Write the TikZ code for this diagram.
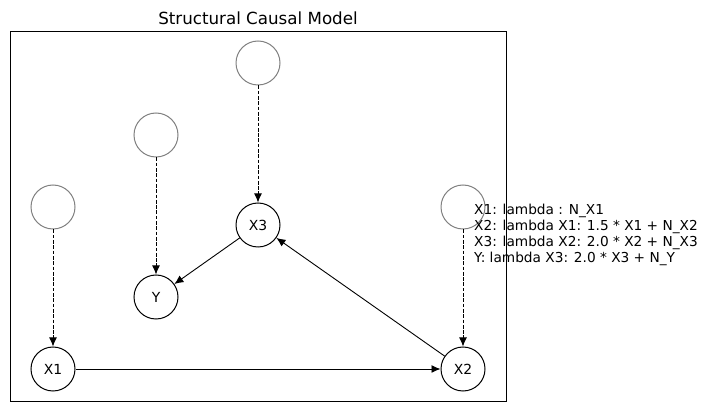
\documentclass[tikz,border=0pt]{standalone}
\usepackage{fontspec}
\setmainfont{DejaVu Sans}
\usetikzlibrary{arrows.meta}
\newcommand{\labelfont}{\fontsize{13.9}{16.2}\selectfont}
\newcommand{\eqfont}{\fontsize{13.7}{16.1}\selectfont}
\newcommand{\titlefont}{\fontsize{16.7}{20}\selectfont}
\tikzset{
  var/.style={circle,draw,line width=1pt,minimum size=44pt,inner sep=0pt,font=\labelfont},
  noise/.style={circle,draw=gray,line width=1pt,minimum size=44pt,inner sep=0pt},
  cause/.style={line width=0.9pt,-{Latex[length=9pt,width=8pt]}},
  noisecause/.style={cause,dash pattern=on 3.7pt off 1.6pt}
}

\begin{document}
\begin{tikzpicture}[x=1pt,y=-1pt]
  \useasboundingbox (0,0) rectangle (707,411);

  % frame and title
  \draw[line width=0.8pt] (10,31) rectangle (506,401);
  \node[font=\titlefont] (title) at (258,18) {Structural Causal Model};

  % variables
  \node[var] (X3) at (258,225) {X3};
  \node[var] (Y)  at (156,297) {Y};
  \node[var] (X1) at (53,369)  {X1};
  \node[var] (X2) at (463,369) {X2};

  % noise terms
  \node[noise] (NX3) at (258,63)  {};
  \node[noise] (NY)  at (156,135) {};
  \node[noise] (NX1) at (53,207)  {};
  \node[noise] (NX2) at (463,207) {};

  \draw[noisecause] (NX3) -- (X3);
  \draw[noisecause] (NY) -- (Y);
  \draw[noisecause] (NX1) -- (X1);
  \draw[noisecause] (NX2) -- (X2);

  \draw[cause] (X1) -- (X2);
  \draw[cause] (X2) -- (X3);
  \draw[cause] (X3) -- (Y);

  % equations
  \node[anchor=west,align=left,inner sep=0pt,font=\eqfont] (eqs) at (474,235)
    {X1: lambda : N\_X1\\
     X2: lambda X1: 1.5 * X1 + N\_X2\\
     X3: lambda X2: 2.0 * X2 + N\_X3\\
     Y: lambda X3: 2.0 * X3 + N\_Y};
\end{tikzpicture}
\end{document}
